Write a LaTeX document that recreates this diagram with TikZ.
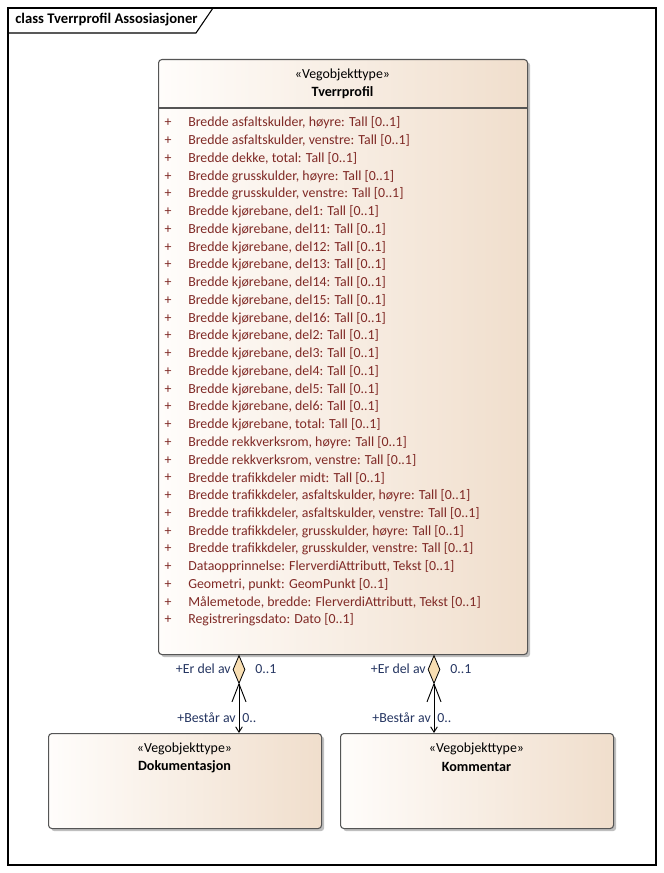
\documentclass[tikz,border=0pt]{standalone}
\usepackage{fontspec}
\setmainfont{Carlito}
\usetikzlibrary{shapes.geometric,shadows,arrows.meta}
\definecolor{boxR}{RGB}{240,222,204}
\definecolor{boxL}{RGB}{255,253,251}
\definecolor{boxline}{RGB}{85,85,85}
\definecolor{attr}{RGB}{128,42,38}
\definecolor{lbl}{RGB}{38,54,98}
\definecolor{dia}{RGB}{248,222,178}
\begin{document}
\begin{tikzpicture}[x=0.75pt,y=-0.75pt,
  font=\fontsize{10.4}{12}\selectfont,
  umlbox/.style={draw=boxline, line width=0.8pt, rounded corners=2.5pt,
    left color=boxL, right color=boxR, anchor=north west, inner sep=0pt,
    drop shadow={shadow xshift=2pt, shadow yshift=-2pt, opacity=0.25, fill=black}},
  stereo/.style={inner sep=0pt, anchor=center},
  cname/.style={inner sep=0pt, anchor=center, font=\fontsize{10.6}{12}\selectfont\bfseries},
  plus/.style={inner sep=0pt, text=attr, anchor=center},
  attrtext/.style={inner sep=0pt, text=attr, anchor=west},
  role/.style={inner sep=0pt, text=lbl},
  aggdia/.style={diamond, draw=black, line width=0.6pt, fill=dia, inner sep=0pt,
    minimum width=9pt, minimum height=21pt, anchor=north},
  assoc/.style={draw=black, line width=0.7pt},
  navarrow/.style={-{Straight Barb[length=4pt,width=5pt,line width=0.7pt]}}
]
\useasboundingbox (0,0) rectangle (663,873);
\fill[white] (0,0) rectangle (663,873);

% frame
\draw[line width=0.8pt] (8,8) rectangle (656,865);
\draw[line width=0.8pt] (8,33) -- (196,33) -- (213,8);
\node[inner sep=0pt, anchor=west, font=\fontsize{11}{13}\selectfont\bfseries] (title) at (15,20) {class Tverrprofil Assosiasjoner};

% main class
\node[umlbox, minimum width=276.75pt, minimum height=446.25pt] (tp) at (158,59) {};
\node[stereo] (tpst) at (342.5,75) {«Vegobjekttype»};
\node[cname] (tpname) at (342.5,93) {Tverrprofil};
\draw[boxline, line width=0.8pt] (tp.west |- 0,108) -- (tp.east |- 0,108);

\foreach \t [count=\i from 0] in {
  {Bredde asfaltskulder, høyre: Tall [0..1]},
  {Bredde asfaltskulder, venstre: Tall [0..1]},
  {Bredde dekke, total: Tall [0..1]},
  {Bredde grusskulder, høyre: Tall [0..1]},
  {Bredde grusskulder, venstre: Tall [0..1]},
  {Bredde kjørebane, del1: Tall [0..1]},
  {Bredde kjørebane, del11: Tall [0..1]},
  {Bredde kjørebane, del12: Tall [0..1]},
  {Bredde kjørebane, del13: Tall [0..1]},
  {Bredde kjørebane, del14: Tall [0..1]},
  {Bredde kjørebane, del15: Tall [0..1]},
  {Bredde kjørebane, del16: Tall [0..1]},
  {Bredde kjørebane, del2: Tall [0..1]},
  {Bredde kjørebane, del3: Tall [0..1]},
  {Bredde kjørebane, del4: Tall [0..1]},
  {Bredde kjørebane, del5: Tall [0..1]},
  {Bredde kjørebane, del6: Tall [0..1]},
  {Bredde kjørebane, total: Tall [0..1]},
  {Bredde rekkverksrom, høyre: Tall [0..1]},
  {Bredde rekkverksrom, venstre: Tall [0..1]},
  {Bredde trafikkdeler midt: Tall [0..1]},
  {Bredde trafikkdeler, asfaltskulder, høyre: Tall [0..1]},
  {Bredde trafikkdeler, asfaltskulder, venstre: Tall [0..1]},
  {Bredde trafikkdeler, grusskulder, høyre: Tall [0..1]},
  {Bredde trafikkdeler, grusskulder, venstre: Tall [0..1]},
  {Dataopprinnelse: FlerverdiAttributt, Tekst [0..1]},
  {Geometri, punkt: GeomPunkt [0..1]},
  {Målemetode, bredde: FlerverdiAttributt, Tekst [0..1]},
  {Registreringsdato: Dato [0..1]}} {
  \node[plus] (p\i) at (168,123+17.75*\i) {+};
  \node[attrtext] (a\i) at (188,123+17.75*\i) {\t};
}

% target classes
\node[umlbox, minimum width=204.75pt, minimum height=71.25pt] (dok) at (48,733) {};
\node[stereo] (dokst) at (184.5,749) {«Vegobjekttype»};
\node[cname] (dokname) at (184.5,767) {Dokumentasjon};

\node[umlbox, minimum width=204.75pt, minimum height=71.25pt] (kom) at (340,733) {};
\node[stereo] (komst) at (476.5,749) {«Vegobjekttype»};
\node[cname] (komname) at (476.5,767) {Kommentar};

% association 1
\coordinate (s1) at (239,0 |- tp.south);
\node[aggdia] (d1) at (s1) {};
\draw[assoc, navarrow] (d1.south) -- (d1.south |- dok.north);
\draw[assoc] (d1.south) -- ++(-7,18);
\draw[assoc] (d1.south) -- ++(7,18);
\node[role, anchor=east] (r1a) at (231,669) {+Er del av};
\node[role, anchor=west] (m1a) at (255,669) {0..1};
\node[role, anchor=east] (r1b) at (236,718) {+Består av};
\node[role, anchor=west] (m1b) at (242,718) {0..};

% association 2
\coordinate (s2) at (434,0 |- tp.south);
\node[aggdia] (d2) at (s2) {};
\draw[assoc, navarrow] (d2.south) -- (d2.south |- kom.north);
\draw[assoc] (d2.south) -- ++(-7,18);
\draw[assoc] (d2.south) -- ++(7,18);
\node[role, anchor=east] (r2a) at (426,669) {+Er del av};
\node[role, anchor=west] (m2a) at (450,669) {0..1};
\node[role, anchor=east] (r2b) at (431,718) {+Består av};
\node[role, anchor=west] (m2b) at (437,718) {0..};
\end{tikzpicture}
\end{document}
